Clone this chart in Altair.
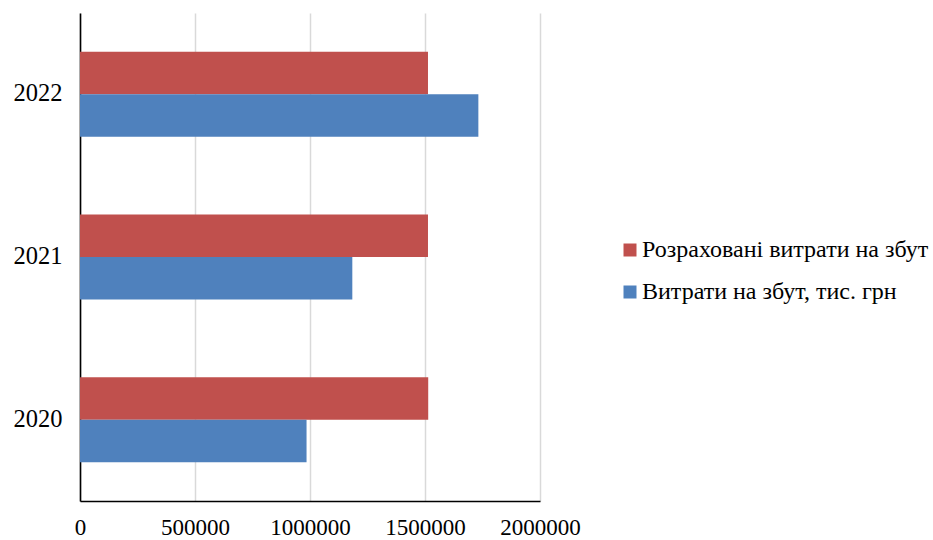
import altair as alt
import pandas as pd

years = ["2022", "2021", "2020"]
series = ["Розраховані витрати на збут", "Витрати на збут, тис. грн"]
calc_costs = [1513000, 1513000, 1514000]
actual_costs = [1732000, 1184000, 985000]
colors = ["#C0504D", "#4F81BD"]
x_ticks = [0, 500000, 1000000, 1500000, 2000000]

rows = []
for i, yr in enumerate(years):
    rows.append({"year": yr, "series": series[0], "value": calc_costs[i]})
    rows.append({"year": yr, "series": series[1], "value": actual_costs[i]})
df = pd.DataFrame(rows)

FONT = "Liberation Serif"

chart = alt.Chart(df).mark_bar().encode(
    y=alt.Y("year:N", sort=years,
            scale=alt.Scale(paddingInner=0.477, paddingOuter=0.2385),
            axis=alt.Axis(title=None, ticks=False, labelFontSize=24.5, labelFont=FONT,
                          labelColor="black", labelPadding=18, domainColor="black",
                          domainWidth=1.6, grid=False)),
    yOffset=alt.YOffset("series:N", sort=series,
                        scale=alt.Scale(paddingInner=0, paddingOuter=0)),
    x=alt.X("value:Q", scale=alt.Scale(domain=[0, 2000000], nice=False),
            axis=alt.Axis(title=None, values=x_ticks, format="d", ticks=False,
                          labelFontSize=23, labelFont=FONT, labelColor="black",
                          labelPadding=15, domainColor="black", domainWidth=1.6,
                          gridColor="#D9D9D9", gridWidth=1.5, labelFlush=False)),
    color=alt.Color("series:N", sort=series,
                    scale=alt.Scale(domain=series, range=colors),
                    legend=alt.Legend(title=None, orient="none", legendX=538, legendY=225,
                                      symbolType="square", symbolSize=169,
                                      symbolStrokeWidth=0, labelFontSize=24,
                                      labelFont=FONT, labelColor="black",
                                      labelOffset=0, rowPadding=18, labelLimit=400)),
).properties(
    width=460, height=488,
    padding={"left": 80, "top": 13, "right": 393, "bottom": 39},
    autosize="none",
).configure(font=FONT).configure_view(stroke=None)

chart.save("out.html", embed_options={"renderer": "svg", "actions": False})
